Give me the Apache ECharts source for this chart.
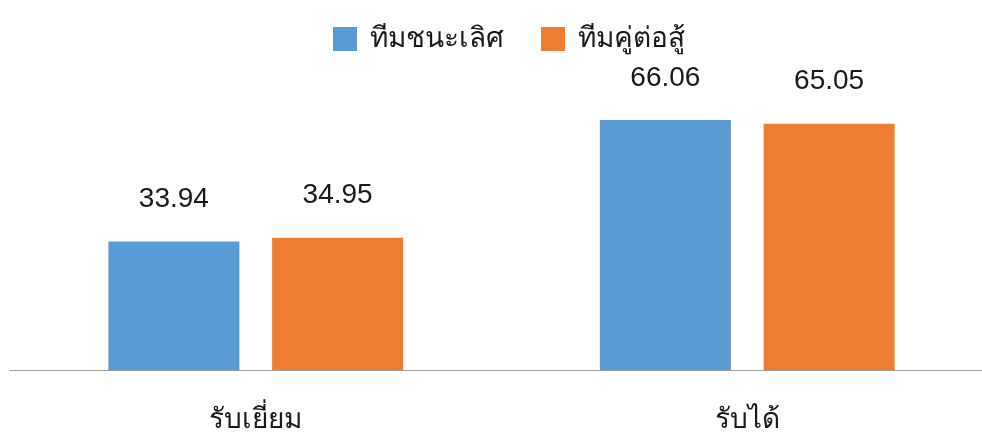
<!DOCTYPE html>
<html>
<head>
<meta charset="utf-8">
<script src="https://cdn.jsdelivr.net/npm/echarts@6/dist/echarts.min.js"></script>
<style>
  html, body { margin: 0; padding: 0; background: #fff; overflow: hidden; }
  #wrap { position: relative; width: 982px; height: 434px; overflow: hidden; }
  #chart { position: absolute; left: 0; top: 0; width: 993px; height: 434px; }
</style>
</head>
<body>
<div id="wrap"><div id="chart"></div></div>
<script>
const categories = ['รับเยี่ยม', 'รับได้']
const seriesNames = ['ทีมชนะเลิศ', 'ทีมคู่ต่อสู้']
const winnerValues = [33.94, 66.06]
const opponentValues = [34.95, 65.05]

const numFont = '"Liberation Sans", sans-serif'
const thaiFont = '"Noto Sans", "DejaVu Sans", sans-serif'

let chart = echarts.init(document.getElementById('chart'))

let label = {
  show: true,
  position: 'top',
  distance: 28,
  color: '#1a1a1a',
  fontSize: 28,
  fontFamily: numFont,
  formatter: (p) => p.value.toFixed(2),
}

let option = {
  animation: false,
  legend: {
    top: 20,
    left: 328,
    itemWidth: 24,
    itemHeight: 24,
    itemGap: 37,
    icon: 'rect',
    textStyle: { fontSize: 28, fontWeight: 300, color: '#1a1a1a', fontFamily: thaiFont, padding: [0, 0, 0, 8] },
    data: seriesNames,
  },
  grid: {
    left: 10,
    right: 0,
    top: 105,
    bottom: 63,
  },
  xAxis: {
    type: 'category',
    data: categories,
    axisTick: { show: false },
    axisLine: { lineStyle: { color: '#9e9e9e', width: 1 } },
    axisLabel: { color: '#1a1a1a', fontSize: 28, fontWeight: 300, margin: 36, fontFamily: thaiFont },
  },
  yAxis: {
    type: 'value',
    min: 0,
    max: 70,
    show: false,
    splitLine: { show: false },
  },
  series: [
    {
      name: seriesNames[0],
      type: 'bar',
      barWidth: 131,
      barGap: '25%',
      itemStyle: { color: '#5B9BD5' },
      label: label,
      data: winnerValues,
    },
    {
      name: seriesNames[1],
      type: 'bar',
      barWidth: 131,
      barGap: '25%',
      itemStyle: { color: '#ED7D31' },
      label: label,
      data: opponentValues,
    },
  ],
}

chart.setOption(option)
</script>
</body>
</html>
